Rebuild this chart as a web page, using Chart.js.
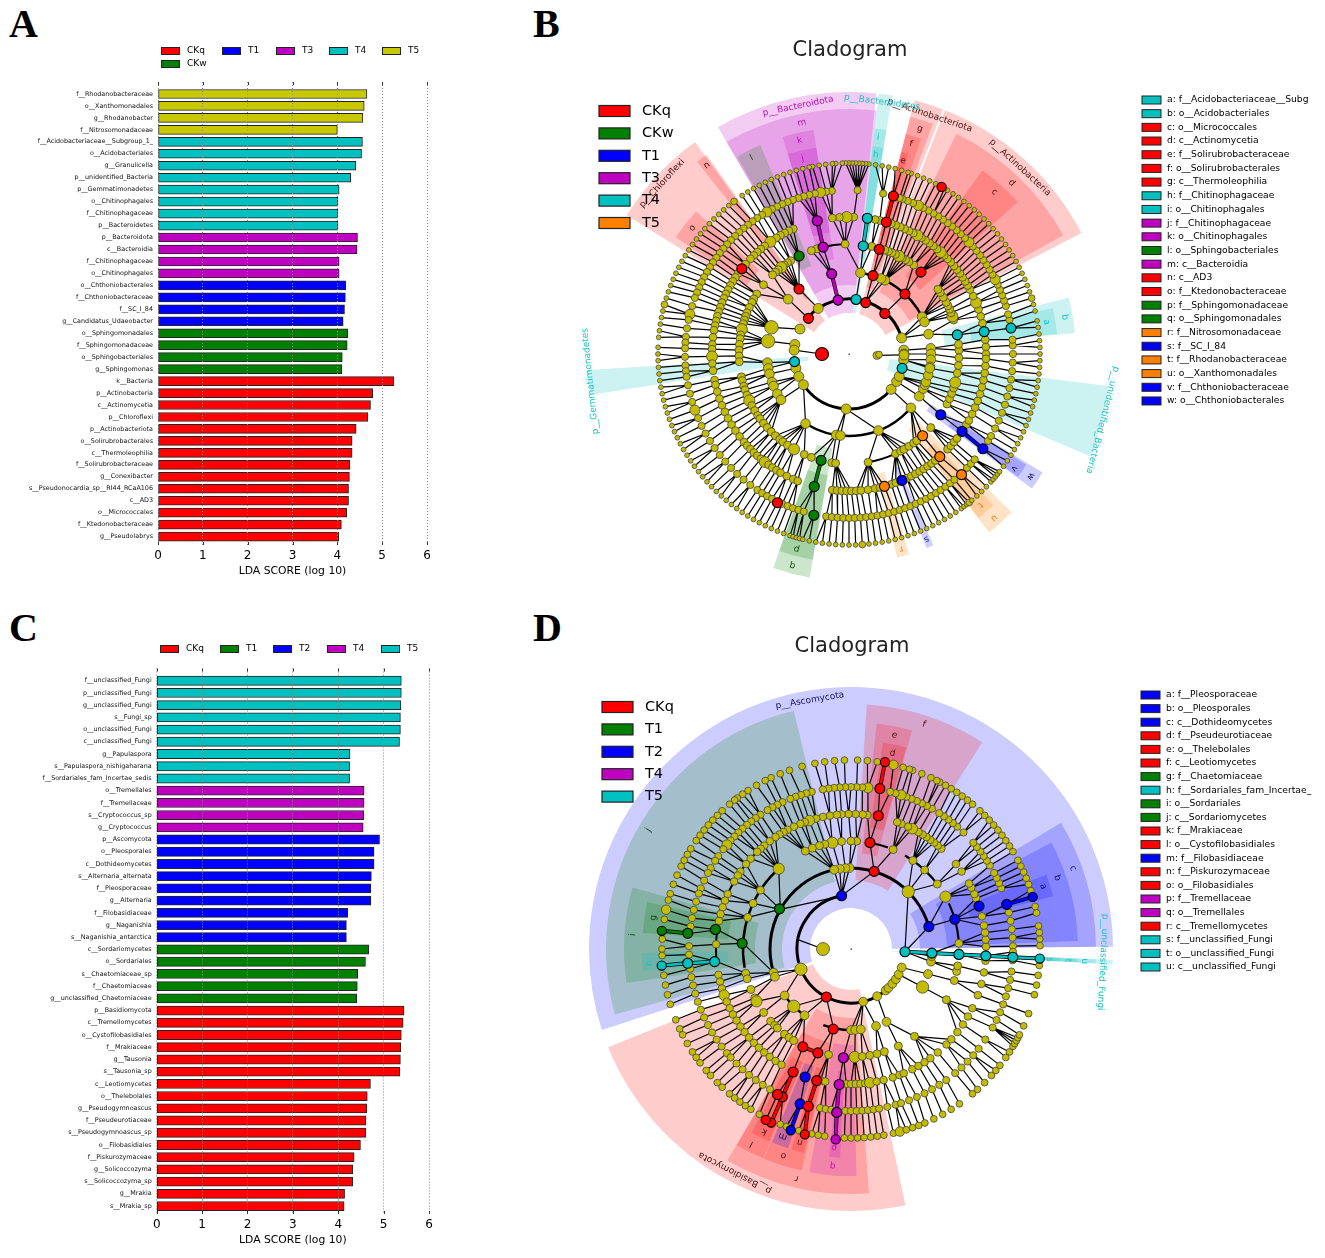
<!DOCTYPE html>
<html><head><meta charset="utf-8">
<script src="https://cdn.jsdelivr.net/npm/chart.js@4"></script>
<style>
html,body{margin:0;padding:0;background:#fff;width:1325px;height:1258px;overflow:hidden}
canvas{position:absolute}
.p{position:absolute;font:bold 40px "Liberation Serif",serif;color:#000;line-height:40px}
</style></head><body>
<div class="p" style="left:9px;top:4px">A</div><div class="p" style="left:533px;top:4px">B</div>
<div class="p" style="left:9px;top:608px">C</div><div class="p" style="left:533px;top:608px">D</div>
<canvas id="ca" width="450" height="550" style="left:0;top:30px"></canvas>
<canvas id="cc" width="450" height="624" style="left:0;top:625px"></canvas>
<canvas id="cb" width="785" height="570" style="left:540px;top:30px"></canvas>
<canvas id="cd" width="785" height="625" style="left:540px;top:625px"></canvas>
<script>
const FONT='"DejaVu Sans"';
// ---------- Panel A
const aNames=['f__Rhodanobacteraceae','o__Xanthomonadales','g__Rhodanobacter','f__Nitrosomonadaceae','f__Acidobacteriaceae__Subgroup_1_','o__Acidobacteriales','g__Granulicella','p__unidentified_Bacteria','p__Gemmatimonadetes','o__Chitinophagales','f__Chitinophagaceae','p__Bacteroidetes','p__Bacteroidota','c__Bacteroidia','f__Chitinophagaceae','o__Chitinophagales','o__Chthoniobacterales','f__Chthoniobacteraceae','f__SC_I_84','g__Candidatus_Udaeobacter','o__Sphingomonadales','f__Sphingomonadaceae','o__Sphingobacteriales','g__Sphingomonas','k__Bacteria','p__Actinobacteria','c__Actinomycetia','p__Chloroflexi','p__Actinobacteriota','o__Solirubrobacterales','c__Thermoleophilia','f__Solirubrobacteraceae','g__Conexibacter','s__Pseudonocardia_sp__RI44_RCaA106','c__AD3','o__Micrococcales','f__Ktedonobacteraceae','g__Pseudolabrys'];
const aValues=[4.66,4.60,4.57,4.00,4.56,4.54,4.41,4.30,4.04,4.01,4.01,4.01,4.45,4.44,4.04,4.04,4.19,4.18,4.16,4.13,4.23,4.22,4.11,4.10,5.26,4.79,4.74,4.68,4.42,4.33,4.33,4.28,4.27,4.25,4.25,4.21,4.09,4.03];
const aGroups=['T5','T5','T5','T5','T4','T4','T4','T4','T4','T4','T4','T4','T3','T3','T3','T3','T1','T1','T1','T1','CKw','CKw','CKw','CKw','CKq','CKq','CKq','CKq','CKq','CKq','CKq','CKq','CKq','CKq','CKq','CKq','CKq','CKq'];
const aLegend=['CKq','T1','T3','T4','T5','CKw'];
// ---------- Panel C
const cNames=['f__unclassified_Fungi','p__unclassified_Fungi','g__unclassified_Fungi','s__Fungi_sp','o__unclassified_Fungi','c__unclassified_Fungi','g__Papulaspora','s__Papulaspora_nishigaharana','f__Sordariales_fam_Incertae_sedis','o__Tremellales','f__Tremellaceae','s__Cryptococcus_sp','g__Cryptococcus','p__Ascomycota','o__Pleosporales','c__Dothideomycetes','s__Alternaria_alternata','f__Pleosporaceae','g__Alternaria','f__Filobasidiaceae','g__Naganishia','s__Naganishia_antarctica','c__Sordariomycetes','o__Sordariales','s__Chaetomiaceae_sp','f__Chaetomiaceae','g__unclassified_Chaetomiaceae','p__Basidiomycota','c__Tremellomycetes','o__Cystofilobasidiales','f__Mrakiaceae','g__Tausonia','s__Tausonia_sp','c__Leotiomycetes','o__Thelebolales','g__Pseudogymnoascus','f__Pseudeurotiaceae','s__Pseudogymnoascus_sp','o__Filobasidiales','f__Piskurozymaceae','g__Solicoccozyma','s__Solicoccozyma_sp','g__Mrakia','s__Mrakia_sp'];
const cValues=[5.39,5.39,5.38,5.37,5.37,5.35,4.26,4.25,4.25,4.57,4.57,4.56,4.55,4.91,4.79,4.79,4.73,4.72,4.72,4.21,4.18,4.18,4.67,4.60,4.43,4.42,4.41,5.45,5.43,5.39,5.38,5.37,5.36,4.71,4.64,4.63,4.61,4.61,4.49,4.35,4.32,4.32,4.14,4.13];
const cGroups=['T5','T5','T5','T5','T5','T5','T5','T5','T5','T4','T4','T4','T4','T2','T2','T2','T2','T2','T2','T2','T2','T2','T1','T1','T1','T1','T1','CKq','CKq','CKq','CKq','CKq','CKq','CKq','CKq','CKq','CKq','CKq','CKq','CKq','CKq','CKq','CKq','CKq'];
const cLegend=['CKq','T1','T2','T4','T5'];
const cColors={CKq:'#ff0000',T1:'#008000',T2:'#0000ff',T4:'#c000c0',T5:'#00c0c0'};
const aColors={CKq:'#ff0000',CKw:'#008000',T1:'#0000ff',T3:'#c000c0',T4:'#00c0c0',T5:'#c8c800'};

function barChart(id,names,values,groups,legend,colors,pos,axis){
  const datasets=legend.map(g=>({label:g,backgroundColor:colors[g],borderColor:'#222',borderWidth:1,borderSkipped:false,barThickness:axis.bar,
    data:values.map((v,i)=>groups[i]===g?{x:v,y:i}:null).filter(Boolean)}));
  new Chart(document.getElementById(id),{type:'bar',data:{datasets},options:{
    indexAxis:'y',responsive:false,animation:false,devicePixelRatio:1,
    datasets:{bar:{grouped:false}},
    layout:{padding:{top:axis.top,right:axis.right,bottom:2,left:0},autoPadding:false},
    plugins:{legend:{display:false},tooltip:{enabled:false}},
    scales:{
      x:{type:'linear',min:0,max:6,position:'bottom',
        afterFit:s=>{s.height=33},
        ticks:{stepSize:1,font:{family:FONT,size:12},color:'#000',padding:4,maxRotation:0},
        grid:{z:1,color:'#888',lineWidth:1,drawTicks:false},border:{display:false,dash:[1,2]},
        title:{display:true,text:'LDA SCORE (log 10)',font:{family:FONT,size:10.8},color:'#000',padding:0}},
      y:{type:'linear',reverse:true,offset:false,min:-1,max:axis.ymax,position:'left',
        afterFit:s=>{s.width=axis.left},
        afterBuildTicks:s=>{s.ticks=names.map((_,i)=>({value:i}))},
        ticks:{autoSkip:false,callback:v=>names[v],font:{family:FONT,size:6.4},color:'#111',padding:5},
        grid:{display:false,drawTicks:false},border:{display:false}}
    }},
    plugins:[{id:'marks',afterDraw(ch){
      const c=ch.ctx,a=ch.chartArea,x=ch.scales.x;c.save();c.strokeStyle='#333';c.lineWidth=1;
      x.ticks.forEach(t=>{const p=Math.round(x.getPixelForValue(t.value))+.5;c.beginPath();c.moveTo(p,a.top);c.lineTo(p,a.top+3);c.moveTo(p,a.bottom-3);c.lineTo(p,a.bottom);c.stroke();});
      legend.forEach((g,i)=>{const [px,py]=pos[i];c.fillStyle=colors[g];c.strokeStyle='#222';c.lineWidth=1;c.fillRect(px,py-3.5,18,7);c.strokeRect(px+.5,py-3.5,18,7);
        c.fillStyle='#000';c.font='9px '+FONT;c.textBaseline='middle';c.fillText(g,px+26,py);});
      c.restore();
    }}]
  });
}
barChart('ca',aNames,aValues,aGroups,aLegend,aColors,[[161,21],[222,21],[276,21],[329,21],[382,21],[161,34]],{top:52,right:23,left:158,ymax:37.7,bar:9});
barChart('cc',cNames,cValues,cGroups,cLegend,cColors,[[160,24],[220,24],[273,24],[327,24],[381,24]],{top:43.5,right:21,left:156.7,ymax:43.65,bar:9.2});

// ---------- Panel B cladogram (angles in degrees, counter-clockwise from east)
const b55=[17,4,0,354,124,153,170,176,195,204,214,267,320,330,336,359];
const b82=[14,4,0,356,351,27,23,82,64,67,138,161,171,186,190,194,200,203,209,214,238,261,264,291,319,329,335,338,340,345,350];
const b110=[2,5,18,20,22,24,26,28,31,34,36,54,57,59,61,63,65,67,69,71,78,92,107,110,122,124,126,128,130,132,134,141,147,150,152,155,158,160,162,164,167,170,172,175,178,181,184,192,194,197,199,202,205,208,211,214,216,219,222,225,228,231,233,236,240,246,250,261,263,280,295,298,300,303,306,308,318,333,336,339,342,345,350,354,358];
const b137=[0,3,6,13,16,19,22,25,28,30,32,34,36,38,40,42,44,46,48,50,52,54,56,58,60,62,64,66,68,70,72,77,79,88,91,94,97,114,116,118,120,122,125,128,130,132,134,136,139,144,146,148,150,152,154,156,158,160,162,164,166,168,170,173,176,178,181,184,187,191,193,196,199,202,205,208,211,214,217,220,222,224,226,228,230,232,234,236,238,240,243,246,248,263,265,267,269,271,273,275,278,281,283,288,290,295,297,299,301,303,305,307,309,316,318,320,322,329,331,334,337,340,343,346,349,352,355,358];
const b164=[0,3,5,12,14,17,19,21,23,25,27,29,31,33,35,37,39,41,43,45,47,49,51,53,55,57,59,61,63,65,67,69,71,72,78,87,96,98,100,102,104,106,108,110,112,114,116,118,120,122,124,126,128,130,132,134,136,138,140,142,144,146,148,150,152,154,156,158,160,163,166,168,171,174,176,178,181,184,186,188,191,194,197,200,203,206,209,212,215,218,221,224,227,230,233,236,238,240,242,246,248,250,252,254,262,264,266,268,270,272,274,276,278,280,282,284,286,288,290,292,294,296,298,300,302,304,306,308,310,316,318,320,328,330,333,336,339,342,345,348,351,354,357];
const b191=[0,2,4,6,8,10,13,15,17,19,21,23,25,27,29,31,33,35,37,39,41,43,45,47,49,51,53,55,57,59,60,63,65,67,69,71,72,74,76,78,80,82,84,85,86,87,88,89,90,91,92,94,95,97,99,101,102,104,106,108,110,112,114,116,118,120,122,124,127,129,131,133,135,137,139,141,143,145,147,149,151,153,155,157,159,161,163,165,167,169,171,173,175,178,180,182,184,186,188,190,192,194,196,198,200,202,204,206,208,210,212,214,216,218,220,222,224,226,228,230,232,234,236,238,240,242,244,246,248,250,252,253,254,255,256,258,260,262,264,266,268,270,272,274,276,278,280,282,284,286,288,290,292,294,296,298,300,302,304,306,307,308,309,310,312,314,316,318,319,320,321,322,324,326,328,330,332,334,336,338,340,342,344,346,348,350,352,354,356,358];
const bBig=[[191,17],[191,127],[191,165],[191,309],[191,274],[164,27],[164,43],[164,65],[164,100],[164,120],[164,149],[164,166],[164,307],[164,200],[137,22],[137,48],[137,60],[137,91],[137,125],[137,181],[137,232],[137,270],[110,20],[110,63],[110,128],[110,167],[110,205],[110,240],[110,345],[82,161],[82,171]];
const bNodes={CKq:[[27,180],[54,138.7],[82,127.6],[137,141.5],[54,72],[54,48.5],[82,47],[109,48.7],[82,73],[109,73.9],[137,74.2],[164,74.3],[191,61],[165,244.3]],CKw:[[110,117],[110,255.3],[137,255.3],[165,257.7]],T1:[[110,326.5],[137,325.6],[164,324.7],[137,292.7]],T3:[[55,101.5],[82,102.2],[110,103.6],[137,103.4]],T4:[[55,82.6],[109,82.5],[137,82.3],[55,188],[55,345],[110,10],[137,9.4],[164,9.1]],T5:[[110,312],[137,311.5],[165,313],[137,285]]};
const bChains=[['M',[[55,101.5],[82,102.2]]],['M',[[110,103.6],[137,103.4]]],['G',[[110,255.3],[137,255.3]]],['Tl',[[109,82.5],[137,82.3]]],['R',[[137,74.2],[164,74.3]]],['B',[[137,325.6],[164,324.7]]]];
const bArcs=[[55,17,138,3],[55,214,320,3],[82,27,82,2.5],[82,238,320,2.5],[110,280,295,2],[110,92,104,2],[27,176,180,1]];
const bWedges=[[84,120,41,262,'M'],[80.5,83.5,41,262,'Tl'],[126,148,41,262,'R'],[69,75.5,41,262,'R'],[27.5,68.5,41,262,'R'],[-23,-7,41,262,'Tl'],[183.5,189,41,262,'Tl'],
 [83.5,120,69,245,'M'],[125.6,128.3,69,245,'R'],[29,64,69,245,'R'],[70,75.5,69,245,'R'],
 [42,54,96,227,'R'],[71.5,75.5,96,227,'R'],[99,107,96,227,'M'],[113,119.5,96,227,'G'],[80.5,83.5,96,227,'Tl'],[5.3,14.4,96,227,'Tl'],[250.5,260,96,227,'G'],[308.2,315.8,96,227,'O'],[323.7,328.5,96,227,'B'],
 [73.5,75.5,123,209,'R'],[99,107,123,209,'M'],[137,146,123,209,'R'],[80.5,83.5,123,209,'Tl'],[5.5,12.7,123,209,'Tl'],[250.5,260,123,209,'G'],[308.4,313.7,123,209,'O'],[324,328,123,209,'B'],[291.8,293.8,123,209,'B'],[283.3,286.7,123,209,'O']];
const bLabels=[['p__Actinobacteria',253,47.5,'R'],['p__Actinobacteriota',252,71.3,'R'],['p__Bacteroidetes',254,82.5,'Tl'],['p__Bacteroidota',253,101.6,'M'],['p__Chloroflexi',253,137.6,'R'],['p__Gemmatimonadetes',260,186,'Tl'],['p__unidentified_Bacteria',262,-14.6,'Tl'],
 ['a',200,9.2,'Tl'],['b',219,9.7,'Tl'],['c',217.6,48.1,'R'],['d',236,46.4,'R'],['e',200.6,74.4,'R'],['f',219,73.6,'R'],['g',236,72.5,'R'],['h',201,82.3,'Tl'],['i',218.7,82.4,'Tl'],['j',201,103.3,'M'],['k',219,103,'M'],['l',219,116.4,'G'],['m',236,101.5,'M'],['n',236,127,'R'],['o',201,141.2,'R'],['p',202,255,'G'],['q',219,255,'G'],['r',202,-75,'O'],['s',201,-67.3,'B'],['t',200,-49,'O'],['u',219,-48.5,'O'],['v',201,-34.7,'B'],['w',219,-34,'B']];
const bLegendLeft=['CKq','CKw','T1','T3','T4','T5'];
const bLegendColors=['#ff0000','#008000','#0000ff','#c000c0','#00c0c0','#ff8000'];
const bKeys=['a: f__Acidobacteriaceae__Subg','b: o__Acidobacteriales','c: o__Micrococcales','d: c__Actinomycetia','e: f__Solirubrobacteraceae','f: o__Solirubrobacterales','g: c__Thermoleophilia','h: f__Chitinophagaceae','i: o__Chitinophagales','j: f__Chitinophagaceae','k: o__Chitinophagales','l: o__Sphingobacteriales','m: c__Bacteroidia','n: c__AD3','o: f__Ktedonobacteraceae','p: f__Sphingomonadaceae','q: o__Sphingomonadales','r: f__Nitrosomonadaceae','s: f__SC_I_84','t: f__Rhodanobacteraceae','u: o__Xanthomonadales','v: f__Chthoniobacteraceae','w: o__Chthoniobacterales'];
const bKeyColors=['Tl','Tl','R','R','R','R','R','Tl','Tl','M','M','G','M','R','R','G','G','O','B','O','O','B','B'];

// ---------- Panel D cladogram
const d54=[283,299,310,314,320,326,332,340,202];
const d81=[45,91,94,98,102,197,200,215,225,235,270,273,277,288,296,332,342,351,355];
const d108=[3,29,37,47,55,67,87,90,95,100,104,107,111,115,132,147,155,163,193,196,202,207,209,216,222,225,227,232,235,238,258,272,276,280,284,288,296,306,332,343,348,351,358];
const d135=[1,4,7,10,14,22,24,27,29,35,39,48,50,52,54,56,58,60,63,65,68,70,83,85,88,91,94,96,99,102,105,108,110,112,115,118,120,122,124,127,130,132,134,138,141,145,147,150,156,159,162,165,168,178,191,194,197,200,203,206,209,212,215,218,221,224,227,230,233,236,239,257,259,268,270,272,274,276,278,281,284,288,291,293,297,300,303,306,310,315,318,322,326,330,334,340,345,350,355];
const d162=[1,4,7,10,13,22,24,26,28,31,33,35,37,39,41,46,49,51,53,55,57,60,62,64,66,68,70,72,74,76,84,86,88,90,92,94,96,98,100,104,106,108,110,112,115,117,119,121,124,126,128,130,132,134,136,138,140,142,145,147,150,152,155,158,160,163,166,169,172,179,182,187,190,193,196,199,202,205,208,211,214,217,220,222,225,228,231,234,237,240,259,261,263,268,270,272,274,276,278,280,283,286,288,291,294,297,300,303,306,310,313,316,319,322,326,331,334,337,340,343,346,349,352,356,359];
const d189=[1,3,5,7,11,13,18,20,22,24,26,28,31,33,35,37,39,41,43,45,47,50,52,54,56,58,60,62,63,65,68,71,72,74,77,82,85,88,92,95,98,101,105,109,112,115,117,120,123,125,127,128,130,133,135,137,139,141,143,145,148,150,152,154,157,160,163,165,168,171,177,180,182,188,191,194,197,202,205,207,210,213,215,217,220,222,225,227,230,232,234,236,238,241,248,250,254,258,260,262,268,270,272,274,276,278,280,283,285,287,289,291,293,296,299,302,305,310,312,315,318,320,322,325,327,329,330,331,332,333,336,340,346,349,352,355];
const dBig=[[189,77],[189,168],[189,285],[162,72],[162,84],[162,140],[162,290],[135,63],[135,108],[135,125],[135,200],[135,278],[108,29],[108,132],[108,100],[108,209],[108,272],[81,332],[81,45],[81,225],[54,202]];
const dNodes={CKq:[[54,242.8],[81,73.4],[108,79.9],[136,78.4],[163,79.8],[190,79.7],[82,257.5],[109,243.8],[109,252.3],[136,244.8],[136,255.4],[163,245.1],[163,243.2],[163,254.8],[191,245.3],[191,243.5],[191,256]],
 T1:[[82,150.7],[109,177],[137,171.8],[164,174.5],[190,174.5]],
 T2:[[54,100],[81,16],[108,16],[135,18.5],[162,16],[189,16],[136,250.3],[163,251.8],[191,251.6]],
 T4:[[109,266],[136,265],[164,265],[191,265.4]],
 T5:[[54,357.1],[81,357.1],[108,357.1],[135,357.1],[162,357.1],[189,357.1],[137,185.3],[164,185],[190,185]]};
const dChains=[['Tl',[[54,357.1],[81,357.1],[108,357.1],[135,357.1],[162,357.1],[189,357.1]]],['B',[[162,16],[189,16]]],['R',[[163,79.8],[190,79.7]]],['G',[[164,174.5],[190,174.5]]],['M',[[136,265],[164,265],[191,265.4]]],['R',[[136,244.8],[163,245.1],[191,245.3]]],['R',[[136,255.4],[163,254.8],[191,256]]],['B',[[163,251.8],[191,251.6]]],['Tl',[[137,185.3],[164,185],[190,185]]],['R',[[109,243.8],[109,252.3]]]];
const dArcs=[[54,100,195,3],[54,202,320,3],[81,16,200,3],[81,215,235,2.5],[81,250,270,2.5],[108,130,190,2.5],[108,5,25,2.2],[108,35,60,2.2],[108,70,80,2],[135,125,185,2],[28,176,180,1]];
const dWedges=[[0.5,198,41,262,'B'],[202,282,41,262,'R'],[356.6,357.6,41,262,'Tl'],
 [103.5,195.5,69,245,'G'],[57.6,86.3,69,245,'R'],[0.5,31,69,245,'B'],[239.7,274.2,69,245,'R'],[356.6,357.6,69,245,'Tl'],
 [164.3,188.6,96,227,'G'],[74.4,83.5,96,227,'R'],[2,28,96,227,'B'],[239.8,247.3,96,227,'R'],[247.5,257.5,96,227,'R'],[259.4,271.4,96,227,'M'],[356.6,357.6,96,227,'Tl'],
 [167,175.6,123,209,'G'],[181,186,123,209,'Tl'],[74.7,81.2,123,209,'R'],[14.6,20.8,123,209,'B'],[241.5,247,123,209,'R'],[247.8,252.5,123,209,'B'],[253.5,257,123,209,'R'],[264,267,123,209,'M'],[356.6,357.6,123,209,'Tl']];
const dLabels=[['p__Ascomycota',252,99.4,'B'],['p__Basidiomycota',252,242.6,'R'],['p__unclassified_Fungi',252,-3,'Tl'],
 ['a',202,18,'B'],['b',218,19,'B'],['c',236,20,'B'],['d',200,78,'R'],['e',218,78.5,'R'],['f',236,72,'R'],['g',200,171,'G'],['h',202,184,'Tl'],['i',219,176.3,'G'],['j',235,149.6,'G'],['k',202,244.6,'R'],['l',219,243,'R'],['m',199.5,250,'B'],['n',200,255.2,'R'],['o',217.5,251.9,'R'],['p',199.4,265.2,'M'],['q',217.5,265.2,'M'],['r',235.7,256.7,'R'],['s',199,-3,'Tl'],['t',217,-3,'Tl'],['u',234,-3,'Tl']];
const dLegendLeft=['CKq','T1','T2','T4','T5'];
const dLegendColors=['#ff0000','#008000','#0000ff','#c000c0','#00c0c0'];
const dKeys=['a: f__Pleosporaceae','b: o__Pleosporales','c: c__Dothideomycetes','d: f__Pseudeurotiaceae','e: o__Thelebolales','f: c__Leotiomycetes','g: f__Chaetomiaceae','h: f__Sordariales_fam_Incertae_','i: o__Sordariales','j: c__Sordariomycetes','k: f__Mrakiaceae','l: o__Cystofilobasidiales','m: f__Filobasidiaceae','n: f__Piskurozymaceae','o: o__Filobasidiales','p: f__Tremellaceae','q: o__Tremellales','r: c__Tremellomycetes','s: f__unclassified_Fungi','t: o__unclassified_Fungi','u: c__unclassified_Fungi'];
const dKeyColors=['B','B','B','R','R','R','G','Tl','G','G','R','R','B','R','R','M','M','R','Tl','Tl','Tl'];

const WASH={R:'rgba(255,0,0,.2)',B:'rgba(0,0,255,.2)',G:'rgba(0,128,0,.2)',Tl:'rgba(0,192,192,.2)',M:'rgba(192,0,192,.2)',O:'rgba(255,128,0,.22)'};
const INK={R:'#4a0f0f',B:'#12125e',G:'#0d3d0d',Tl:'#1cc2c2',M:'#bb10bb',O:'#ee8020'};
const SOLID={R:'#ff0000',B:'#0000ff',G:'#008000',Tl:'#00c0c0',M:'#c000c0',O:'#ff8000'};
const NODEC={CKq:'#ff0000',CKw:'#008000',T1:'#0000ff',T3:'#c000c0',T4:'#00c0c0',T5:'#ff8000'};
const P=(r,t)=>({x:r*Math.cos(t*Math.PI/180),y:r*Math.sin(t*Math.PI/180)});

function clado(id,cfg){
  const cv=document.getElementById(id),W=cv.width,H=cv.height;
  const rings=cfg.rings.map(([r,a])=>({r,a:[...a]}));
  Object.values(cfg.nodes).forEach(L=>L.forEach(([r,t])=>{const g=rings.reduce((b,x)=>Math.abs(x.r-r)<Math.abs(b.r-r)?x:b,rings[0]);g.a.push(t);}));
  const seg=[];
  const dif=(a,b)=>{const d=Math.abs(((a-b)%360+360)%360);return Math.min(d,360-d)};
  for(let i=1;i<rings.length;i++){for(const t of rings[i].a){let b=rings[i-1].a[0];for(const q of rings[i-1].a)if(dif(q,t)<dif(b,t))b=q;
    seg.push(P(rings[i-1].r,b),P(rings[i].r,t),{x:NaN,y:NaN});}}
  cfg.roots.forEach(([a,b])=>seg.push(P(a[0],a[1]),P(b[0],b[1]),{x:NaN,y:NaN}));
  const ds=[{data:seg,showLine:true,borderColor:'#000',borderWidth:1.2,pointRadius:0,spanGaps:false,order:5}];
  cfg.chains.forEach(([c,pts])=>{ds.push({data:pts.map(([r,t])=>P(r,t)),showLine:true,borderColor:'#000',borderWidth:4,pointRadius:0,order:4});
    ds.push({data:pts.map(([r,t])=>P(r,t)),showLine:true,borderColor:SOLID[c],borderWidth:2.6,pointRadius:0,order:3});});
  const yp=[],ys=[];
  cfg.rings.forEach(([r,a])=>a.forEach(t=>{yp.push(P(r,t));const big=cfg.big.some(([q,u])=>q===r&&u===t);ys.push((cfg.size[r]||3)*(big?1.4:1));}));
  cfg.extra.forEach(([r,t,s])=>{yp.push(P(r,t));ys.push(s)});
  ds.push({data:yp,pointRadius:ys,pointBackgroundColor:'#c4bc00',pointBorderColor:'#444',pointBorderWidth:.8,order:2});
  Object.entries(cfg.nodes).forEach(([k,L])=>ds.push({label:k,data:L.map(([r,t])=>P(r,t)),pointRadius:L.map(([r])=>r<30?6.5:r>185?4.6:5),pointBackgroundColor:cfg.palette[k],pointBorderColor:'#000',pointBorderWidth:1.1,order:1}));
  new Chart(cv,{type:'scatter',data:{datasets:ds},options:{responsive:false,animation:false,devicePixelRatio:1,
    layout:{padding:0,autoPadding:false},plugins:{legend:{display:false},tooltip:{enabled:false}},
    scales:{x:{type:'linear',display:false,min:-cfg.cx,max:W-cfg.cx},y:{type:'linear',display:false,min:cfg.cy-H,max:cfg.cy}}},
    plugins:[{id:'rings',
      beforeDatasetsDraw(ch){const c=ch.ctx,x=ch.scales.x,y=ch.scales.y,ox=x.getPixelForValue(0),oy=y.getPixelForValue(0);c.save();
        cfg.wedges.forEach(([a0,a1,r0,r1,k])=>{c.beginPath();c.arc(ox,oy,r1,-a0*Math.PI/180,-a1*Math.PI/180,true);c.arc(ox,oy,r0,-a1*Math.PI/180,-a0*Math.PI/180,false);c.closePath();c.fillStyle=WASH[k];c.fill();});
        c.strokeStyle='#000';
        cfg.arcs.forEach(([r,a0,a1,w])=>{c.lineWidth=w;c.beginPath();c.arc(ox,oy,r,-a0*Math.PI/180,-a1*Math.PI/180,true);c.stroke();});
        c.restore();},
      afterDatasetsDraw(ch){const c=ch.ctx,x=ch.scales.x,y=ch.scales.y,ox=x.getPixelForValue(0),oy=y.getPixelForValue(0);c.save();
        c.fillStyle='#444';c.fillRect(ox-.5,oy-.5,1.4,1.4);
        c.textAlign='center';c.textBaseline='middle';c.font='9px '+FONT;
        cfg.labels.forEach(([s,r,t,k])=>{const p=P(r,t);c.save();c.translate(x.getPixelForValue(p.x),y.getPixelForValue(p.y));c.rotate((90-t)*Math.PI/180);c.fillStyle=INK[k];c.fillText(s,0,0);c.restore();});
        c.fillStyle='#222';c.font='21px '+FONT;c.fillText('Cladogram',cfg.title[0],cfg.title[1]);
        c.textAlign='left';
        cfg.legend.forEach((n,i)=>{const py=cfg.lg[1]+i*cfg.lg[2];c.fillStyle=cfg.legendColors[i];c.strokeStyle='#222';c.lineWidth=1.2;c.fillRect(cfg.lg[0],py-5.5,31,11);c.strokeRect(cfg.lg[0],py-5.5,31,11);
          c.fillStyle='#000';c.font='14.5px '+FONT;c.fillText(n,cfg.lg[0]+43,py);});
        cfg.keys.forEach((n,i)=>{const py=cfg.kg[1]+i*cfg.kg[2];c.fillStyle=SOLID[cfg.keyColors[i]];c.strokeStyle='#222';c.lineWidth=1;c.fillRect(cfg.kg[0],py-4,19,8);c.strokeRect(cfg.kg[0],py-4,19,8);
          c.fillStyle='#000';c.font='9.2px '+FONT;c.fillText(n,cfg.kg[0]+25,py);});
        c.restore();}
    }]
  });
}
clado('cb',{cx:309,cy:324,rings:[[55,b55],[82,b82],[110,b110],[137,b137],[164,b164],[191,b191]],size:{55:5,82:4.8,110:4,137:3.9,164:3.6,191:2.4},big:bBig,extra:[[28,-3,4],[30,-1,3.4]],
 nodes:bNodes,palette:NODEC,chains:bChains,arcs:bArcs,wedges:bWedges,labels:bLabels,roots:[[[27,180],[55,176]],[[28,-3],[55,359]]],
 title:[310,21],legend:bLegendLeft,legendColors:bLegendColors,lg:[59,81,22.4],keys:bKeys,keyColors:bKeyColors,kg:[602,70,13.68]});
clado('cd',{cx:311,cy:324,rings:[[54,d54],[81,d81],[108,d108],[135,d135],[162,d162],[189,d189]],size:{54:4.4,81:4.4,108:4,135:3.8,162:3.6,189:3.4},big:dBig,extra:[[28,180,6.5]],
 nodes:dNodes,palette:{CKq:'#ff0000',T1:'#008000',T2:'#0000ff',T4:'#c000c0',T5:'#00c0c0'},chains:dChains,arcs:dArcs,wedges:dWedges,labels:dLabels,roots:[[[28,180],[54,170]]],
 title:[312,22],legend:dLegendLeft,legendColors:dLegendColors,lg:[62,82,22.4],keys:dKeys,keyColors:dKeyColors,kg:[601,70,13.6]});
</script></body></html>
